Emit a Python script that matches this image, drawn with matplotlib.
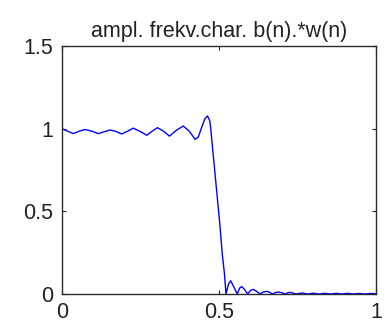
import matplotlib
matplotlib.use('Agg')
import matplotlib.pyplot as plt

plt.rcParams['font.family'] = ['Liberation Sans', 'DejaVu Sans']

# frequency (normalised) and amplitude
freq = [0.000, 0.018, 0.036, 0.055, 0.073, 0.095, 0.116, 0.135, 0.153, 0.172,
        0.190, 0.209, 0.227, 0.249, 0.270, 0.287, 0.304, 0.323, 0.342, 0.364,
        0.386, 0.405, 0.424, 0.434, 0.445, 0.455, 0.463, 0.470, 0.473, 0.480,
        0.487, 0.495, 0.503, 0.510, 0.517, 0.522, 0.530, 0.537, 0.545, 0.558,
        0.565, 0.572, 0.580, 0.591, 0.600, 0.609, 0.618, 0.630, 0.641, 0.652,
        0.661, 0.670, 0.680, 0.689, 0.699, 0.710, 0.718, 0.726, 0.734, 0.745,
        0.764, 0.782, 0.800, 0.818, 0.837, 0.855, 0.873, 0.891, 0.909, 0.927,
        0.945, 0.964, 0.982, 1.000]
ampl = [1.000, 0.985, 0.970, 0.985, 0.995, 0.985, 0.970, 0.982, 0.992, 0.983,
        0.968, 0.985, 1.003, 0.983, 0.960, 0.985, 1.006, 0.985, 0.955, 0.990,
        1.016, 0.985, 0.935, 0.950, 1.010, 1.060, 1.077, 1.050, 1.010, 0.870,
        0.730, 0.570, 0.410, 0.245, 0.125, 0.000, 0.060, 0.080, 0.050, 0.000,
        0.035, 0.045, 0.030, 0.000, 0.022, 0.028, 0.018, 0.000, 0.012, 0.016,
        0.010, 0.000, 0.009, 0.012, 0.008, 0.000, 0.007, 0.010, 0.006, 0.000,
        0.006, 0.000, 0.005, 0.000, 0.004, 0.000, 0.004, 0.000, 0.004, 0.000,
        0.003, 0.000, 0.003, 0.002]

xticks = [0, 0.5, 1]
yticks = [0, 0.5, 1, 1.5]
xticklabels = ['0', '0.5', '1']
yticklabels = ['0', '0.5', '1', '1.5']

fig = plt.figure(figsize=(3.85, 3.24), dpi=100)
ax = fig.add_axes([0.161, 0.0926, 0.816, 0.7654])
ax.plot(freq, ampl, color='#0000ff', lw=1.0)

ax.set_xlim(0, 1)
ax.set_ylim(0, 1.5)
ax.set_xticks(xticks)
ax.set_xticklabels(xticklabels)
ax.set_yticks(yticks)
ax.set_yticklabels(yticklabels)
ax.tick_params(direction='in', length=3, width=0.8, top=True, right=True,
               labelsize=15.5, colors='#222222')
ax.tick_params(axis='x', pad=6)
ax.tick_params(axis='y', pad=6.5)
for s in ax.spines.values():
    s.set_color('#2a2a2a')
    s.set_linewidth(1.0)

ax.set_title('ampl. frekv.char. b(n).*w(n)', fontsize=15.5, color='#222222', pad=6.5)

fig.savefig('out.png', dpi=100)
